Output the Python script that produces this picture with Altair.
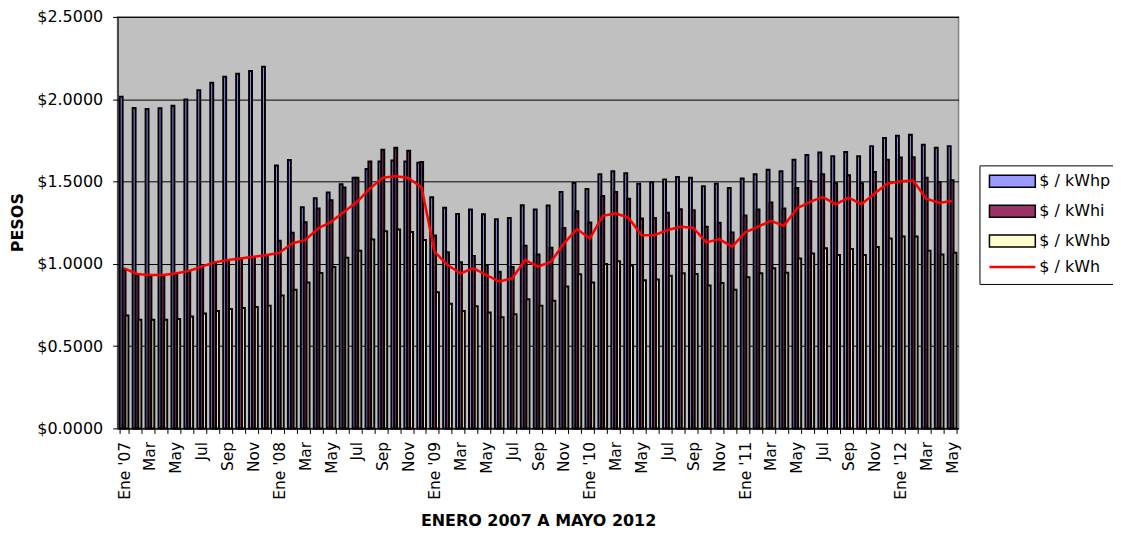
import json
import pandas as pd
import altair as alt

# ---- data ----
month_labels = [
    "Ene '07", "Feb", "Mar", "Abr", "May", "Jun", "Jul", "Ago", "Sep", "Oct", "Nov", "Dic",
    "Ene '08", "Feb", "Mar", "Abr", "May", "Jun", "Jul", "Ago", "Sep", "Oct", "Nov", "Dic",
    "Ene '09", "Feb", "Mar", "Abr", "May", "Jun", "Jul", "Ago", "Sep", "Oct", "Nov", "Dic",
    "Ene '10", "Feb", "Mar", "Abr", "May", "Jun", "Jul", "Ago", "Sep", "Oct", "Nov", "Dic",
    "Ene '11", "Feb", "Mar", "Abr", "May", "Jun", "Jul", "Ago", "Sep", "Oct", "Nov", "Dic",
    "Ene '12", "Feb", "Mar", "Abr", "May",
]

kwhp = [
    2.015, 1.947, 1.941, 1.945, 1.961, 1.998, 2.054, 2.100, 2.137, 2.155, 2.171, 2.197,
    1.598, 1.630, 1.344, 1.398, 1.434, 1.483, 1.523, 1.576, 1.622, 1.628, 1.622, 1.614,
    1.404, 1.340, 1.303, 1.330, 1.301, 1.271, 1.279, 1.356, 1.330, 1.354, 1.437, 1.491,
    1.455, 1.544, 1.562, 1.550, 1.487, 1.495, 1.513, 1.527, 1.523, 1.471, 1.487, 1.461,
    1.519, 1.544, 1.572, 1.562, 1.632, 1.661, 1.677, 1.653, 1.679, 1.653, 1.715, 1.764,
    1.778, 1.784, 1.723, 1.705, 1.715,
]
kwhi = [
    0.965, 0.930, 0.925, 0.925, 0.935, 0.950, 0.980, 1.005, 1.020, 1.030, 1.040, 1.050,
    1.140, 1.188, 1.253, 1.336, 1.386, 1.463, 1.523, 1.622, 1.693, 1.705, 1.687, 1.618,
    1.172, 1.070, 1.009, 1.047, 0.993, 0.952, 0.981, 1.110, 1.057, 1.098, 1.217, 1.320,
    1.251, 1.412, 1.437, 1.396, 1.275, 1.279, 1.310, 1.332, 1.326, 1.225, 1.249, 1.191,
    1.293, 1.330, 1.372, 1.336, 1.461, 1.503, 1.544, 1.489, 1.538, 1.489, 1.558, 1.632,
    1.646, 1.648, 1.523, 1.497, 1.507,
]
kwhb = [
    0.686, 0.660, 0.660, 0.660, 0.665, 0.680, 0.698, 0.714, 0.726, 0.732, 0.738, 0.746,
    0.807, 0.843, 0.886, 0.944, 0.981, 1.037, 1.080, 1.148, 1.198, 1.209, 1.194, 1.144,
    0.827, 0.757, 0.714, 0.742, 0.704, 0.676, 0.694, 0.785, 0.746, 0.775, 0.862, 0.936,
    0.886, 0.999, 1.015, 0.989, 0.900, 0.904, 0.928, 0.942, 0.938, 0.868, 0.884, 0.843,
    0.918, 0.942, 0.973, 0.946, 1.033, 1.063, 1.094, 1.053, 1.090, 1.053, 1.102, 1.154,
    1.166, 1.166, 1.080, 1.057, 1.067,
]
kwh = [
    0.973, 0.938, 0.932, 0.932, 0.942, 0.956, 0.983, 1.009, 1.023, 1.033, 1.043, 1.053,
    1.067, 1.124, 1.144, 1.215, 1.255, 1.316, 1.376, 1.457, 1.523, 1.533, 1.521, 1.463,
    1.073, 0.993, 0.942, 0.973, 0.932, 0.892, 0.912, 1.023, 0.983, 1.013, 1.124, 1.211,
    1.154, 1.291, 1.307, 1.279, 1.174, 1.174, 1.205, 1.225, 1.219, 1.130, 1.150, 1.104,
    1.191, 1.225, 1.261, 1.231, 1.336, 1.376, 1.406, 1.362, 1.402, 1.362, 1.427, 1.487,
    1.501, 1.505, 1.396, 1.370, 1.382,
]

bar_series = ["$ / kWhp", "$ / kWhi", "$ / kWhb"]
bar_colors = ["#9999FF", "#993366", "#FFFFCC"]
line_series = "$ / kWh"
line_color = "#FF0000"

rows = []
for name, vals in zip(bar_series, [kwhp, kwhi, kwhb]):
    for k, v in enumerate(vals):
        rows.append({"idx": k, "serie": name, "value": v})
bars_df = pd.DataFrame(rows)
line_df = pd.DataFrame({"idx": list(range(len(kwh))), "serie": line_series, "value": kwh})

FONT = "DejaVu Sans"
label_expr = "datum.value % 2 == 0 ? (" + json.dumps(month_labels) + ")[datum.value] : ''"

x_enc = alt.X(
    "idx:O",
    title="ENERO 2007 A MAYO 2012",
    scale=alt.Scale(paddingInner=0.33, paddingOuter=0.165),
    axis=alt.Axis(
        labelExpr=label_expr,
        labelAngle=270,
        labelAlign="right",
        labelBaseline="middle",
        labelOverlap=False,
        labelBound=False,
        labelFont=FONT,
        labelFontSize=15.5,
        labelColor="black",
        labelPadding=8,
        tickBand="extent",
        tickExtra=True,
        tickSize=5,
        tickColor="black",
        domainColor="black",
        grid=False,
        titleFont=FONT,
        titleFontSize=16,
        titleFontWeight="bold",
        titleColor="black",
        titleY=92,
        titleBaseline="middle",
    ),
)

y_enc = alt.Y(
    "value:Q",
    title="PESOS",
    scale=alt.Scale(domain=[0, 2.5], nice=False),
    axis=alt.Axis(
        values=[0, 0.5, 1.0, 1.5, 2.0, 2.5],
        format="$.4f",
        labelFont=FONT,
        labelFontSize=16,
        labelColor="black",
        labelPadding=10,
        tickSize=5,
        tickColor="black",
        domainColor="black",
        grid=True,
        gridColor="black",
        gridWidth=1,
        titleFont=FONT,
        titleFontSize=16,
        titleFontWeight="bold",
        titleColor="black",
        titleAngle=270,
        titleX=-100,
        titleY=206,
        titleAlign="center",
        titleBaseline="middle",
    ),
)

RECT = "M-1,-1L6.67,-1L6.67,1L-1,1Z"

bar_legend = alt.Legend(
    title=" ",
    titleOrient="bottom",
    titleFontSize=16,
    titlePadding=10,
    orient="none",
    legendX=865,
    legendY=149,
    direction="vertical",
    symbolType=RECT,
    symbolSize=144,
    symbolStrokeWidth=1.5,
    symbolStrokeColor="black",
    symbolOpacity=1,
    labelFont=FONT,
    labelFontSize=16,
    labelColor="black",
    labelOffset=36,
    rowPadding=12,
    padding=8,
    strokeColor="black",
    fillColor="white",
)

line_legend = alt.Legend(
    title=None,
    orient="none",
    legendX=865,
    legendY=235,
    direction="vertical",
    symbolType="M-1,0L6.67,0",
    symbolSize=144,
    symbolStrokeWidth=2.5,
    symbolStrokeColor=line_color,
    symbolFillColor="transparent",
    symbolOpacity=1,
    labelFont=FONT,
    labelFontSize=16,
    labelColor="black",
    labelOffset=36,
    padding=8,
    zindex=2,
)

bars = alt.Chart(bars_df).mark_bar(stroke="black", strokeWidth=2, opacity=1).encode(
    x=x_enc,
    xOffset=alt.XOffset("serie:N", sort=bar_series,
                        scale=alt.Scale(domain=bar_series, paddingInner=0, paddingOuter=0)),
    y=y_enc,
    color=alt.Color("serie:N", scale=alt.Scale(domain=bar_series, range=bar_colors),
                    legend=bar_legend),
)

line = alt.Chart(line_df).mark_line(strokeWidth=2.5, color=line_color).encode(
    x=x_enc,
    y=y_enc,
    strokeDash=alt.StrokeDash("serie:N", scale=alt.Scale(domain=[line_series], range=[[1, 0]]),
                              legend=line_legend),
)

chart = (
    alt.layer(bars, line)
    .properties(
        width=844,
        height=413,
        autosize=alt.AutoSizeParams(type="none"),
        padding={"left": 110, "top": 8, "right": 155, "bottom": 100},
        background="white",
    )
    .configure_view(fill="#C0C0C0", stroke="#808080", strokeWidth=1.5)
)

chart.save("out.html", embed_options={"renderer": "svg", "actions": False})
